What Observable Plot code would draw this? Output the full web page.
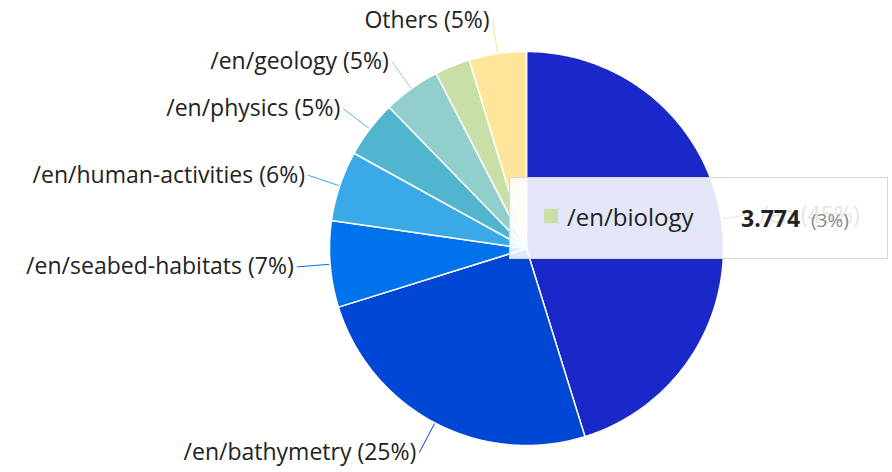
<!DOCTYPE html>
<html>
<head>
<meta charset="utf-8">
<script src="https://cdn.jsdelivr.net/npm/d3@7"></script>
<script src="https://cdn.jsdelivr.net/npm/@observablehq/plot@0.6"></script>
<style>
  html, body { margin: 0; padding: 0; background: #fff; }
  #wrap { position: relative; width: 892px; height: 472px; font-family: "Open Sans", sans-serif; }
  #tip { position: absolute; left: 509px; top: 177px; width: 377px; height: 80px;
         background: rgba(255,255,255,0.88); border: 1px solid #d6d6d6; }
  #tip .sw { position: absolute; left: 34px; top: 31px; width: 14px; height: 14px; }
  #tip .nm { position: absolute; left: 57px; top: 24px; font-size: 24px; line-height: 30px; color: #222; }
  #tip .val { position: absolute; left: 231px; top: 25px; font-size: 23px; line-height: 30px; color: #222; font-weight: bold; }
  #tip .pct { position: absolute; left: 301px; top: 29px; font-size: 19px; line-height: 26px; color: #8a8a8a; }
</style>
</head>
<body>
<div id="wrap"><div id="chart"></div><div id="tip"></div></div>
<script>
// Data, clockwise from 12 o'clock
const names = ["/en", "/en/bathymetry", "/en/seabed-habitats", "/en/human-activities",
               "/en/physics", "/en/geology", "/en/biology", "Others"];
const values = [58.8, 32.5, 9.2, 7.5, 6.1, 6.1, 3.774, 6.1];
const colors = ["#1A28C9", "#0048D3", "#0073EC", "#3AA9E8", "#52B5D0", "#92CECC", "#C8DFA7", "#FEE599"];
const showLabel = [true, true, true, true, true, true, false, true];
const tooltipIndex = 6;

const total = d3.sum(values);
const arcs = d3.pie().sort(null).value(d => d)(values);

// Unit-circle geometry (angle clockwise from top, y downward)
const pt = (a, r) => ({x: r * Math.sin(a), y: -r * Math.cos(a)});
const slicePts = [];
arcs.forEach((a, i) => {
  const n = Math.max(2, Math.ceil((a.endAngle - a.startAngle) / 0.01));
  slicePts.push({name: names[i], ...pt(0, 0)});
  for (let k = 0; k <= n; k++) {
    const t = a.startAngle + (a.endAngle - a.startAngle) * k / n;
    slicePts.push({name: names[i], ...pt(t, 1)});
  }
  slicePts.push({name: names[i], ...pt(0, 0)});
});

const labels = arcs.map((a, i) => {
  const m = (a.startAngle + a.endAngle) / 2;
  const p0 = pt(m, 1.0), p1 = pt(m, 1.17);
  return {name: names[i], x1: p0.x, y1: p0.y, x2: p1.x, y2: p1.y, right: p1.x > 0,
          text: `${names[i]} (${Math.round(values[i] / total * 100)}%)`};
}).filter((d, i) => showLabel[i]);

const R = 197, cx = 526, cy = 248, W = 892, H = 472;
const chart = Plot.plot({
  width: W, height: H, margin: 0,
  x: {domain: [-cx / R, (W - cx) / R], range: [0, W], axis: null},
  y: {domain: [-cy / R, (H - cy) / R], range: [0, H], axis: null},
  color: {domain: names, range: colors},
  style: {fontFamily: "'Open Sans', sans-serif", fontSize: "23px", background: "transparent"},
  marks: [
    Plot.link(labels, {x1: "x1", y1: "y1", x2: "x2", y2: "y2", stroke: "name", strokeWidth: 1}),
    Plot.line(slicePts, {x: "x", y: "y", z: "name", fill: "name", stroke: "white", strokeWidth: 1.5, strokeLinejoin: "round"}),
    Plot.text(labels.filter(d => !d.right), {x: "x2", y: "y2", text: "text", textAnchor: "end", dx: -3, dy: 0, fill: "#222", fontSize: 23}),
    Plot.text(labels.filter(d => d.right), {x: "x2", y: "y2", text: "text", textAnchor: "start", dx: 5, dy: 2, fill: "#222", fontSize: 23})
  ]
});
document.getElementById("chart").appendChild(chart);

// Tooltip (hover state in the reference)
const tip = document.getElementById("tip");
tip.innerHTML = `<div class="sw" style="background:${colors[tooltipIndex]}"></div>
<div class="nm">${names[tooltipIndex]}</div>
<div class="val">${d3.format(".3f")(values[tooltipIndex])}</div>
<div class="pct">(${Math.round(values[tooltipIndex] / total * 100)}%)</div>`;
</script>
</body>
</html>
